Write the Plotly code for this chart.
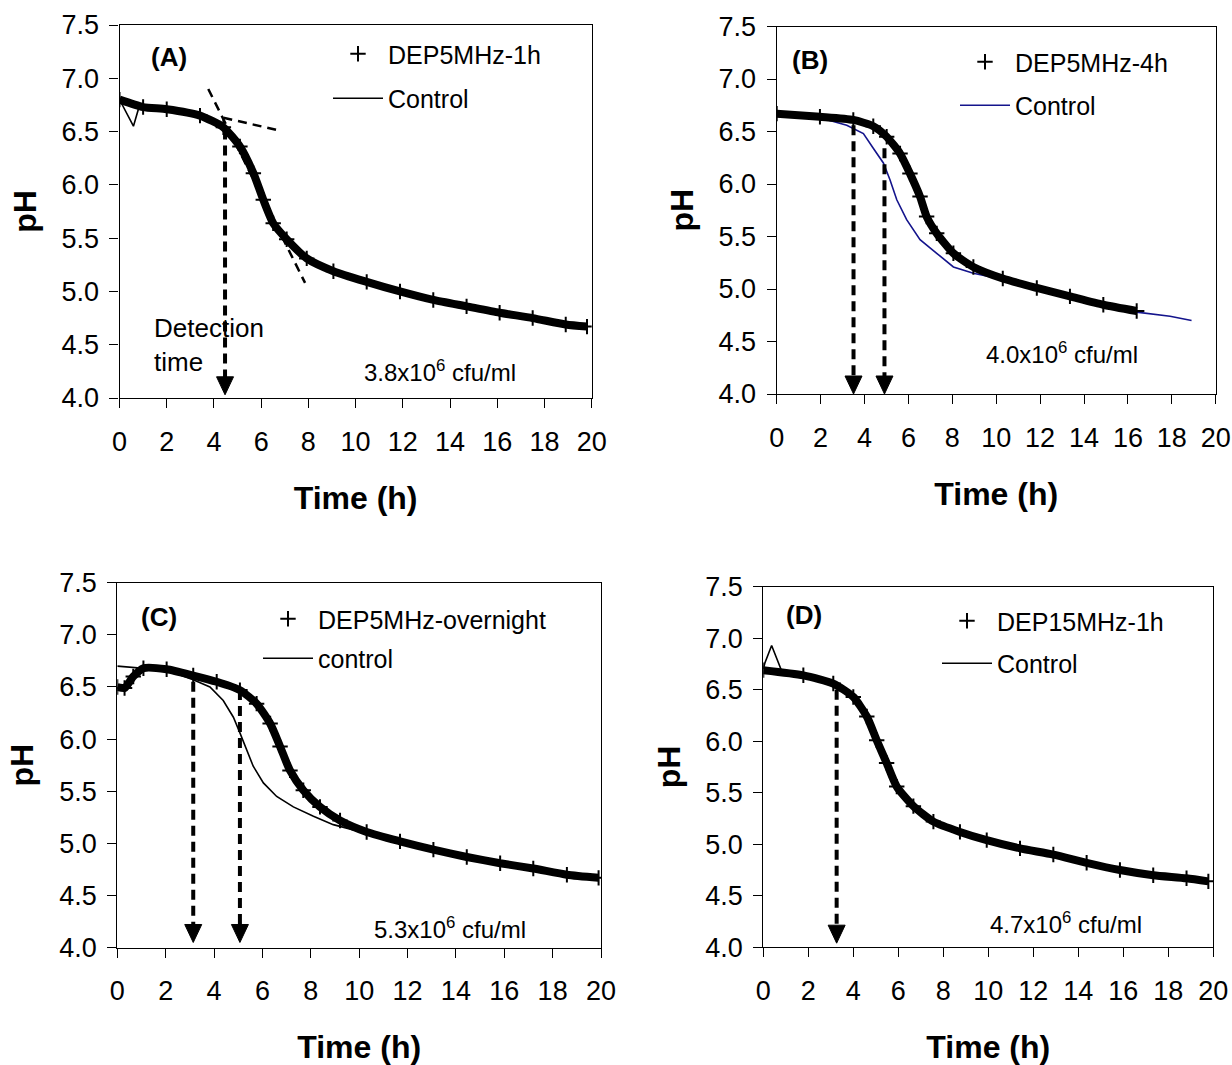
import plotly.graph_objects as go

W, H = 1232, 1065

# ---------------- data ----------------
# Panel A
A_dep_t = [0, 1.0, 2.0, 3.41, 4.4, 5.1, 5.67, 6.09, 6.51, 7.08, 7.93, 9.06, 10.47, 11.88, 13.29, 14.7, 16.1, 17.5, 18.9, 19.8]
A_dep_ph = [6.80, 6.73, 6.71, 6.65, 6.54, 6.36, 6.11, 5.86, 5.64, 5.49, 5.31, 5.19, 5.09, 5.00, 4.92, 4.86, 4.80, 4.75, 4.69, 4.67]
A_ctl_t = [0, 0.3, 0.59, 0.8, 1.0, 2.0, 3.41, 4.4, 5.1, 5.67, 6.09, 6.51, 7.08, 7.93, 9.06, 10.47, 11.88, 13.29, 14.7, 16.1, 17.5, 18.9, 19.8]
A_ctl_ph = [6.80, 6.68, 6.55, 6.71, 6.73, 6.71, 6.65, 6.54, 6.36, 6.11, 5.86, 5.64, 5.49, 5.31, 5.19, 5.09, 5.00, 4.92, 4.86, 4.80, 4.75, 4.69, 4.67]
A_tan1_t = [4.40, 6.87]
A_tan1_ph = [6.63, 6.505]
A_tan2_t = [3.76, 7.86]
A_tan2_ph = [6.90, 5.08]
A_det_t = [4.47]
A_det_top = [6.52]

# Panel B
B_dep_t = [0, 1.97, 3.49, 4.40, 5.01, 5.62, 6.07, 6.53, 6.83, 7.29, 8.05, 8.96, 10.3, 11.85, 13.36, 14.88, 16.4]
B_dep_ph = [6.67, 6.64, 6.61, 6.55, 6.45, 6.29, 6.10, 5.88, 5.69, 5.53, 5.34, 5.21, 5.10, 5.01, 4.93, 4.85, 4.79]
B_ctl_t = [0, 1.97, 3.19, 3.95, 4.40, 4.86, 5.16, 5.47, 5.92, 6.53, 7.29, 8.05, 8.96, 10.3, 11.85, 13.36, 14.88, 16.4, 17.92, 18.9]
B_ctl_ph = [6.67, 6.63, 6.56, 6.48, 6.34, 6.20, 6.04, 5.85, 5.66, 5.47, 5.34, 5.21, 5.15, 5.09, 5.01, 4.93, 4.85, 4.78, 4.74, 4.70]
B_det_t = [3.50, 4.91]
B_det_top = [6.56, 6.34]

# Panel C
C_dep_t = [0, 0.3, 0.66, 1.08, 2.04, 3.14, 4.11, 5.07, 5.76, 6.32, 6.73, 7.14, 7.69, 8.38, 9.21, 10.31, 11.69, 13.07, 14.45, 15.83, 17.2, 18.59, 19.9]
C_dep_ph = [6.50, 6.49, 6.60, 6.68, 6.67, 6.61, 6.55, 6.47, 6.34, 6.15, 5.93, 5.70, 5.51, 5.35, 5.22, 5.11, 5.02, 4.94, 4.87, 4.81, 4.76, 4.70, 4.67]
C_ctl_t = [0, 0.6, 1.08, 2.04, 3.14, 3.83, 4.38, 4.80, 5.07, 5.35, 5.62, 6.04, 6.59, 7.28, 8.11, 8.93, 9.76, 10.31, 11.69, 13.07, 14.45, 15.83, 17.2, 18.59, 19.9]
C_ctl_ph = [6.70, 6.69, 6.68, 6.66, 6.57, 6.50, 6.37, 6.21, 6.06, 5.90, 5.74, 5.58, 5.45, 5.35, 5.26, 5.18, 5.13, 5.11, 5.02, 4.94, 4.87, 4.81, 4.76, 4.70, 4.67]
C_det_t = [3.14, 5.07]
C_det_top = [6.55, 6.47]

# Panel D
D_dep_t = [0, 1.78, 3.11, 4.0, 4.6, 5.04, 5.48, 5.93, 6.67, 7.56, 8.74, 9.93, 11.41, 12.89, 14.37, 15.85, 17.33, 18.81, 19.78]
D_dep_ph = [6.69, 6.64, 6.56, 6.43, 6.24, 6.01, 5.79, 5.56, 5.37, 5.22, 5.12, 5.04, 4.96, 4.90, 4.82, 4.75, 4.70, 4.67, 4.64]
D_ctl_t = [0, 0.07, 0.37, 0.67, 0.8, 1.78, 3.11, 4.0, 4.6, 5.04, 5.48, 5.93, 6.67, 7.56, 8.74, 9.93, 11.41, 12.89, 14.37, 15.85, 17.33, 18.81, 19.78]
D_ctl_ph = [6.70, 6.76, 6.93, 6.76, 6.69, 6.64, 6.56, 6.43, 6.24, 6.01, 5.79, 5.56, 5.37, 5.22, 5.12, 5.04, 4.96, 4.90, 4.82, 4.75, 4.70, 4.67, 4.64]
D_det_t = [3.26]
D_det_top = [6.50]

x_ticks = [0, 2, 4, 6, 8, 10, 12, 14, 16, 18, 20]
y_ticks = [4.0, 4.5, 5.0, 5.5, 6.0, 6.5, 7.0, 7.5]
arrow_tip_ph = [4.03, 4.0, 4.05, 4.04]

panel_labels = ["(A)", "(B)", "(C)", "(D)"]
dep_names = ["DEP5MHz-1h", "DEP5MHz-4h", "DEP5MHz-overnight", "DEP15MHz-1h"]
ctl_names = ["Control", "Control", "control", "Control"]
conc_labels = ["3.8x10<sup>6</sup> cfu/ml", "4.0x10<sup>6</sup> cfu/ml",
               "5.3x10<sup>6</sup> cfu/ml", "4.7x10<sup>6</sup> cfu/ml"]

# ---------------- layout settings (page pixels) ----------------
FONT = "Liberation Sans, Arial, Helvetica, sans-serif"
# plot boxes: left, right, top, bottom
boxes = [(119.5, 591.7, 25.0, 398.0), (776.7, 1215.7, 26.5, 394.0),
         (117.3, 601.0, 582.7, 947.7), (763.3, 1213.3, 586.7, 947.3)]
# legend: left x, top y, group gap
legend_px = [(328, 31, 9), (955, 39, 8), (258, 596, 4), (937, 598, 7)]
label_pos = [(1.23, 7.20), (0.61, 7.18), (0.88, 7.17), (0.91, 7.23)]
conc_pos = [(10.25, 4.25), (9.45, 4.39), (10.55, 4.19), (9.97, 4.24)]
ctl_colors = ["black", "#14148c", "black", "black"]


def fx(px):
    return px / W


def fy(py):
    return 1 - py / H


dep_t = [A_dep_t, B_dep_t, C_dep_t, D_dep_t]
dep_ph = [A_dep_ph, B_dep_ph, C_dep_ph, D_dep_ph]
ctl_t = [A_ctl_t, B_ctl_t, C_ctl_t, D_ctl_t]
ctl_ph = [A_ctl_ph, B_ctl_ph, C_ctl_ph, D_ctl_ph]
det_t = [A_det_t, B_det_t, C_det_t, D_det_t]
det_top = [A_det_top, B_det_top, C_det_top, D_det_top]

fig = go.Figure()
shapes = []
annotations = []
layout = {}

for i in range(4):
    n = "" if i == 0 else str(i + 1)
    xa, ya = "x" + n, "y" + n
    lg = "legend" + n
    # control line (under)
    fig.add_trace(go.Scatter(
        x=ctl_t[i], y=ctl_ph[i], mode="lines", name=ctl_names[i],
        line=dict(color=ctl_colors[i], width=1.6),
        xaxis=xa, yaxis=ya, legend=lg, legendgroup="c" + n, legendrank=2))
    # dense DEP band
    fig.add_trace(go.Scatter(
        x=dep_t[i], y=dep_ph[i], mode="lines", showlegend=False,
        line=dict(color="black", width=8, shape="spline", smoothing=0.6),
        xaxis=xa, yaxis=ya, hoverinfo="skip"))
    # DEP crosses
    fig.add_trace(go.Scatter(
        x=dep_t[i], y=dep_ph[i], mode="markers", name=dep_names[i],
        marker=dict(symbol="cross-thin", size=11, color="black",
                    line=dict(color="black", width=2)),
        xaxis=xa, yaxis=ya, legend=lg, legendgroup="d" + n, legendrank=1))

    l, r, t, b = boxes[i]
    px_x = (r - l) / 20.0
    px_y = (b - t) / 3.5
    common = dict(showline=True, linecolor="black", linewidth=1.3, mirror=True,
                  ticks="outside", ticklen=9, tickwidth=1.3, tickcolor="black",
                  showgrid=False, zeroline=False, automargin=False,
                  tickfont=dict(family=FONT, size=27, color="black"))
    layout["xaxis" + n] = dict(domain=[fx(l), fx(r)], anchor=ya, range=[0, 20],
                               tickvals=x_ticks, ticklabelstandoff=10,
                               title=dict(text="Time (h)", standoff=31,
                                          font=dict(family=FONT, size=32, color="black", weight="bold")),
                               **common)
    layout["yaxis" + n] = dict(domain=[fy(b), fy(t)], anchor=xa, range=[4, 7.5],
                               tickvals=y_ticks, tickformat=".1f", ticklabelstandoff=5,
                               title=dict(text="pH", standoff=15,
                                          font=dict(family=FONT, size=32, color="black", weight="bold")),
                               **common)
    lx, ly, gap = legend_px[i]
    layout[lg] = dict(x=fx(lx), y=fy(ly), xanchor="left", yanchor="top", xref="paper", yref="paper",
                      bgcolor="rgba(0,0,0,0)", borderwidth=0, itemwidth=50,
                      tracegroupgap=gap, traceorder="grouped",
                      font=dict(family=FONT, size=25, color="black"))

    # detection-time arrows
    hw = 8.5 / px_x
    hh = 18.0 / px_y
    tip = arrow_tip_ph[i]
    for tt, top in zip(det_t[i], det_top[i]):
        shapes.append(dict(type="line", xref=xa, yref=ya, x0=tt, x1=tt, y0=top, y1=tip + hh * 0.9,
                           line=dict(color="black", width=4, dash="10px,6px")))
        shapes.append(dict(type="path", xref=xa, yref=ya,
                           path=f"M {tt - hw},{tip + hh} L {tt + hw},{tip + hh} L {tt},{tip} Z",
                           fillcolor="black", line=dict(color="black", width=1)))

    # panel label and concentration
    annotations.append(dict(xref=xa, yref=ya, x=label_pos[i][0], y=label_pos[i][1],
                            text=panel_labels[i], showarrow=False, xanchor="left", yanchor="middle",
                            font=dict(family=FONT, size=26, color="black", weight="bold")))
    annotations.append(dict(xref=xa, yref=ya, x=conc_pos[i][0], y=conc_pos[i][1],
                            text=conc_labels[i], showarrow=False, xanchor="left", yanchor="middle",
                            font=dict(family=FONT, size=24, color="black")))

# tangent lines in panel A
for tt, pp in [(A_tan1_t, A_tan1_ph), (A_tan2_t, A_tan2_ph)]:
    fig.add_trace(go.Scatter(x=tt, y=pp, mode="lines", showlegend=False, hoverinfo="skip",
                             line=dict(color="black", width=2.5, dash="9px,6px"),
                             xaxis="x", yaxis="y"))

annotations.append(dict(xref="x", yref="y", x=1.36, y=4.50, text="Detection<br>time",
                        showarrow=False, xanchor="left", yanchor="middle", align="left",
                        font=dict(family=FONT, size=26, color="black")))

fig.update_layout(width=W, height=H, margin=dict(l=0, r=0, t=0, b=0, autoexpand=False),
                  paper_bgcolor="white", plot_bgcolor="white",
                  font=dict(family=FONT, color="black"),
                  shapes=shapes, annotations=annotations, **layout)

fig.write_html("out.html", config={"displayModeBar": False},
               post_script="document.body.style.margin='0';document.body.style.overflow='hidden';")
